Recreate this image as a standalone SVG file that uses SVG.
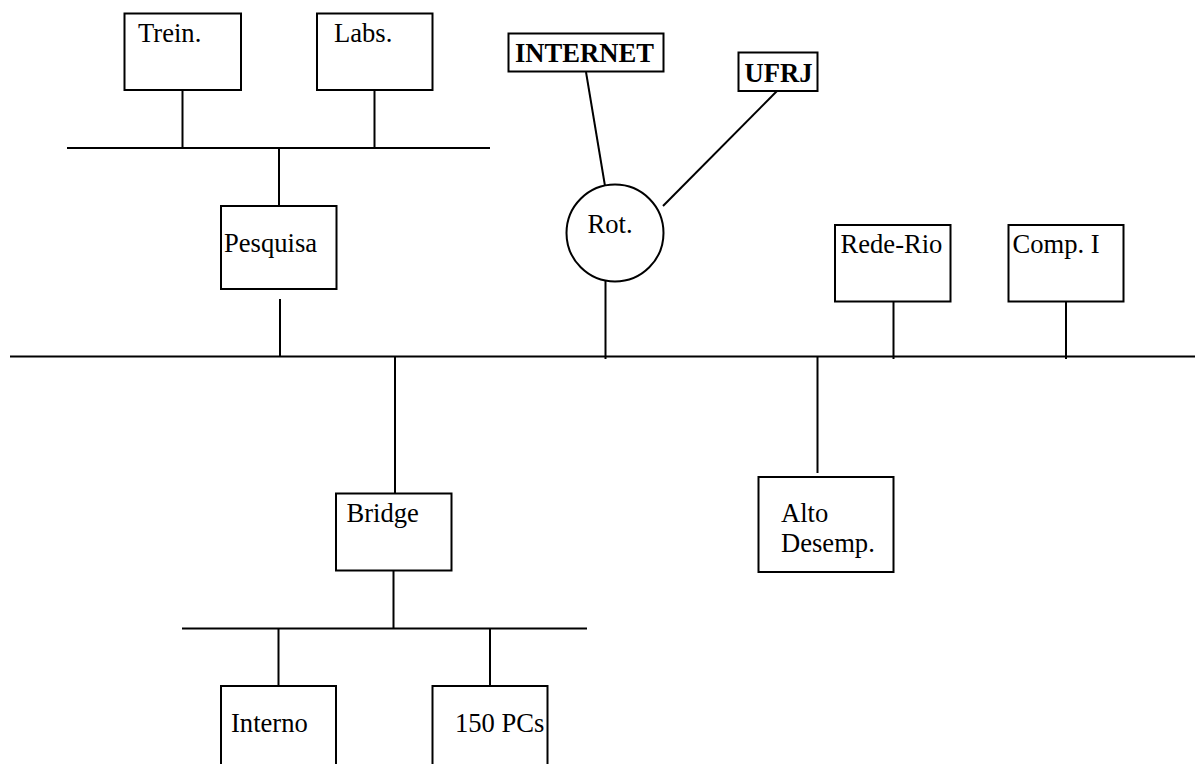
<svg xmlns="http://www.w3.org/2000/svg" width="1195" height="764" viewBox="0 0 1195 764">
<style>
.box{fill:#fff;stroke:#000;stroke-width:2}
.ln{stroke:#000;stroke-width:2;fill:none}
.t{font-family:"Liberation Serif","Times New Roman",serif;font-size:26.6px;fill:#000}
.b{font-weight:bold}
</style>
<rect width="1195" height="764" fill="#fff"/>
<g id="connectors">
<line class="ln" x1="10" y1="356.5" x2="1195" y2="356.5"/>
<line class="ln" x1="67" y1="148" x2="490" y2="148"/>
<line class="ln" x1="182.5" y1="90" x2="182.5" y2="148"/>
<line class="ln" x1="374.5" y1="90" x2="374.5" y2="148"/>
<line class="ln" x1="279" y1="148" x2="279" y2="206"/>
<line class="ln" x1="280" y1="299" x2="280" y2="356"/>
<line class="ln" x1="586" y1="72" x2="605" y2="186"/>
<line class="ln" x1="777" y1="91" x2="663" y2="206"/>
<line class="ln" x1="605.5" y1="281" x2="605.5" y2="359"/>
<line class="ln" x1="893.5" y1="302" x2="893.5" y2="359"/>
<line class="ln" x1="1066" y1="302" x2="1066" y2="359"/>
<line class="ln" x1="395" y1="356" x2="395" y2="494"/>
<line class="ln" x1="817.5" y1="356" x2="817.5" y2="473"/>
<line class="ln" x1="393.5" y1="571" x2="393.5" y2="628.5"/>
<line class="ln" x1="182" y1="628.5" x2="587" y2="628.5"/>
<line class="ln" x1="278.5" y1="628.5" x2="278.5" y2="686"/>
<line class="ln" x1="490" y1="628.5" x2="490" y2="686"/>
</g>
<g id="trein"><rect class="box" x="124.5" y="13.5" width="116.5" height="76.5"/><text class="t" x="138" y="42">Trein.</text></g>
<g id="labs"><rect class="box" x="317" y="13.5" width="115.5" height="76.5"/><text class="t" x="334" y="42">Labs.</text></g>
<g id="pesquisa"><rect class="box" x="221" y="206" width="115.5" height="83"/><text class="t" x="224" y="252">Pesquisa</text></g>
<g id="internet"><rect class="box" x="508.5" y="33.5" width="155" height="38"/><text class="t b" x="515" y="62">INTERNET</text></g>
<g id="ufrj"><rect class="box" x="738.5" y="52.5" width="79" height="38.5"/><text class="t b" x="744.5" y="82">UFRJ</text></g>
<g id="rot"><circle class="box" cx="615" cy="233" r="48.5"/><text class="t" x="587.5" y="233">Rot.</text></g>
<g id="rede-rio"><rect class="box" x="835" y="225" width="115.5" height="76.5"/><text class="t" x="840.5" y="253">Rede-Rio</text></g>
<g id="comp-i"><rect class="box" x="1008.5" y="225" width="115" height="76.5"/><text class="t" x="1012.5" y="253">Comp. I</text></g>
<g id="bridge"><rect class="box" x="336" y="493.5" width="115.5" height="77"/><text class="t" x="346.5" y="522">Bridge</text></g>
<g id="alto-desemp"><rect class="box" x="758.5" y="477" width="135" height="95"/><text class="t" x="781" y="522">Alto</text><text class="t" x="781" y="552">Desemp.</text></g>
<g id="interno"><rect class="box" x="221" y="686" width="115" height="90"/><text class="t" x="231" y="732">Interno</text></g>
<g id="pcs"><rect class="box" x="432.5" y="686" width="115" height="90"/><text class="t" x="455" y="732">150 PCs</text></g>
</svg>
